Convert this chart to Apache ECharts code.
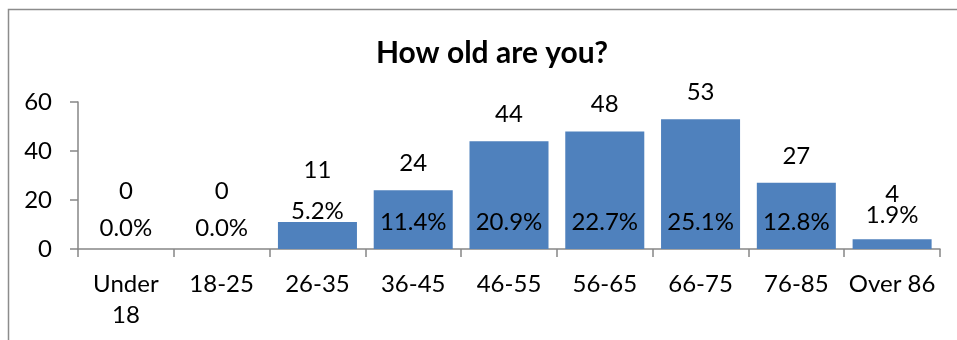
<!DOCTYPE html>
<html>
<head>
<meta charset="utf-8">
<script src="https://cdn.jsdelivr.net/npm/echarts@6/dist/echarts.min.js"></script>
<style>
html,body{margin:0;padding:0;background:#fff;}
#chart{width:957px;height:340px;}
</style>
</head>
<body>
<div id="chart"></div>
<script>
// ---- data ----
var categories = ['Under\n18', '18-25', '26-35', '36-45', '46-55', '56-65', '66-75', '76-85', 'Over 86'];
var counts = [0, 0, 11, 24, 44, 48, 53, 27, 4];
var percents = ['0.0%', '0.0%', '5.2%', '11.4%', '20.9%', '22.7%', '25.1%', '12.8%', '1.9%'];
var yTicks = [0, 20, 40, 60];

// ---- label placement (style only) ----
var countLabelDistance = [46, 46, 40, 15, 15, 15, 15, 15, 33];
var pctLabelPosition = ['top', 'top', 'top', 'insideBottom', 'insideBottom', 'insideBottom', 'insideBottom', 'insideBottom', 'top'];
var pctLabelDistance = [9, 9, -1, 15, 15, 15, 15, 15, 12];

var FONT = 'Lato, "Open Sans", sans-serif';
var chart = echarts.init(document.getElementById('chart'), null, {renderer: 'canvas'});

var option = {
  animation: false,
  backgroundColor: '#ffffff',
  title: {
    text: 'How old are you?',
    left: 487,
    top: 33,
    textAlign: 'center',
    textStyle: {fontFamily: FONT, fontSize: 30, fontWeight: 'bold', color: '#000'}
  },
  graphic: [{
    type: 'rect',
    shape: {x: 8.5, y: 9.5, width: 1000, height: 400},
    style: {fill: 'none', stroke: '#8c8c8c', lineWidth: 1.5},
    silent: true
  }],
  grid: {left: 78, right: 17, top: 102, bottom: 91, containLabel: false},
  xAxis: {
    type: 'category',
    data: categories,
    boundaryGap: true,
    axisLine: {lineStyle: {color: '#868686', width: 1.5}},
    axisTick: {show: true, length: 8, alignWithLabel: false, lineStyle: {color: '#868686', width: 1.5}},
    axisLabel: {interval: 0, fontFamily: FONT, fontSize: 24, color: '#000', margin: 20, lineHeight: 31}
  },
  yAxis: {
    type: 'value',
    min: yTicks[0],
    max: yTicks[yTicks.length - 1],
    interval: yTicks[1] - yTicks[0],
    splitLine: {show: false},
    axisLine: {show: true, lineStyle: {color: '#868686', width: 1.5}},
    axisTick: {show: true, length: 8, lineStyle: {color: '#868686', width: 1.5}},
    axisLabel: {fontFamily: FONT, fontSize: 24, color: '#000', margin: 26}
  },
  series: [
    {
      name: 'Count',
      type: 'bar',
      barCategoryGap: '17.5%',
      barGap: '-100%',
      itemStyle: {color: '#4F81BD'},
      data: counts.map(function (v, i) {
        return {value: v, label: {distance: countLabelDistance[i]}};
      }),
      label: {
        show: true,
        position: 'top',
        fontFamily: FONT,
        fontSize: 24,
        color: '#000',
        formatter: function (p) { return String(counts[p.dataIndex]); }
      },
      z: 2
    },
    {
      name: 'Percent',
      type: 'bar',
      barCategoryGap: '17.5%',
      barGap: '-100%',
      itemStyle: {color: 'rgba(0,0,0,0)'},
      data: counts.map(function (v, i) {
        return {value: v, label: {position: pctLabelPosition[i], distance: pctLabelDistance[i]}};
      }),
      label: {
        show: true,
        fontFamily: FONT,
        fontSize: 24,
        color: '#000',
        formatter: function (p) { return percents[p.dataIndex]; }
      },
      z: 3
    }
  ]
};
chart.setOption(option);
</script>
</body>
</html>
